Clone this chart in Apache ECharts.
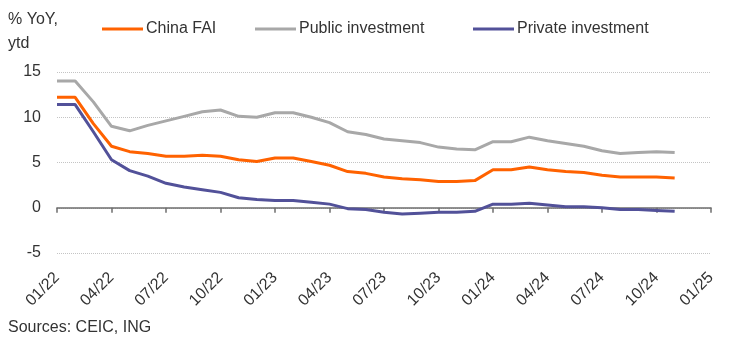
<!DOCTYPE html>
<html><head><meta charset="utf-8">
<script src="https://cdn.jsdelivr.net/npm/echarts@6/dist/echarts.min.js"></script>
<style>html,body{margin:0;padding:0;background:#fff}#c{width:744px;height:343px}</style>
</head><body><div id="c"></div>
<script>
const months = ["01/22","02/22","03/22","04/22","05/22","06/22","07/22","08/22","09/22","10/22","11/22","12/22",
  "01/23","02/23","03/23","04/23","05/23","06/23","07/23","08/23","09/23","10/23","11/23","12/23",
  "01/24","02/24","03/24","04/24","05/24","06/24","07/24","08/24","09/24","10/24","11/24","12/24","01/25"];
const chinaFAI = [12.2,12.2,9.3,6.8,6.2,6.0,5.7,5.7,5.8,5.7,5.3,5.1,
  5.5,5.5,5.1,4.7,4.0,3.8,3.4,3.2,3.1,2.9,2.9,3.0,
  4.2,4.2,4.5,4.2,4.0,3.9,3.6,3.4,3.4,3.4,3.3];
const publicInvestment = [14.0,14.0,11.7,9.0,8.5,9.1,9.6,10.1,10.6,10.8,10.1,10.0,
  10.5,10.5,10.0,9.4,8.4,8.1,7.6,7.4,7.2,6.7,6.5,6.4,
  7.3,7.3,7.8,7.4,7.1,6.8,6.3,6.0,6.1,6.2,6.1];
const privateInvestment = [11.4,11.4,8.4,5.3,4.1,3.5,2.7,2.3,2.0,1.7,1.1,0.9,
  0.8,0.8,0.6,0.4,-0.1,-0.2,-0.5,-0.7,-0.6,-0.5,-0.5,-0.4,
  0.4,0.4,0.5,0.3,0.1,0.1,0.0,-0.2,-0.2,-0.3,-0.4];
const seriesNames = ["China FAI","Public investment","Private investment"];
const yMin = -5, yMax = 15, yStep = 5;

const FONT = "'Liberation Sans', Arial, sans-serif";
const TXT = '#333333';
const colors = ['#FF6200','#A8A8A8','#525199'];
const chart = echarts.init(document.getElementById('c'), null, {renderer:'canvas'});
const legendLefts = [97, 250, 468];
chart.setOption({
  animation:false,
  backgroundColor:'#ffffff',
  textStyle:{fontFamily:FONT},
  grid:{left:57, right:33, top:72, bottom:90, containLabel:false, outerBoundsMode:'none'},
  legend: seriesNames.map((n,i)=>({
    data:[n], left:legendLefts[i], top:16, icon:'rect', itemWidth:41, itemHeight:3,
    itemGap:0, textStyle:{fontSize:16, color:TXT, fontFamily:FONT, padding:[0,0,0,-2]}
  })),
  graphic:[
    {type:'text', left:8, top:8, style:{text:'% YoY,\nytd', fontSize:16, lineHeight:24, fill:TXT, fontFamily:FONT}},
    {type:'text', left:8, top:320, style:{text:'Sources: CEIC, ING', fontSize:16, fill:TXT, fontFamily:FONT}}
  ],
  xAxis:{
    type:'category', data:months, boundaryGap:false,
    axisLine:{onZero:true, lineStyle:{color:'#6e6e6e', width:1.5}},
    axisTick:{interval:2, length:5, lineStyle:{color:'#6e6e6e', width:1.5}},
    axisLabel:{interval:2, rotate:45, margin:22, fontSize:16, color:TXT, fontFamily:FONT}
  },
  yAxis:{
    type:'value', min:yMin, max:yMax, interval:yStep,
    axisLine:{show:false}, axisTick:{show:false},
    axisLabel:{fontSize:16, color:TXT, margin:16, fontFamily:FONT},
    splitLine:{lineStyle:{color:'#c4c4c4', type:'dotted', width:1}}
  },
  series:[
    {name:seriesNames[0], type:'line', data:chinaFAI, showSymbol:false, color:colors[0], lineStyle:{width:3}, z:3},
    {name:seriesNames[1], type:'line', data:publicInvestment, showSymbol:false, color:colors[1], lineStyle:{width:3}, z:2},
    {name:seriesNames[2], type:'line', data:privateInvestment, showSymbol:false, color:colors[2], lineStyle:{width:3}, z:4}
  ]
});
</script></body></html>
